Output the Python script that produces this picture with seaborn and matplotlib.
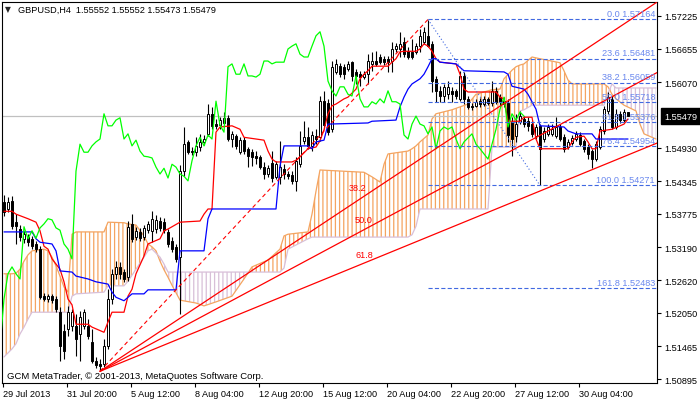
import numpy as np
import matplotlib
matplotlib.use("Agg")
import matplotlib.pyplot as plt
import matplotlib.transforms as mtrans
import seaborn as sns

# ---------------- data (GBPUSD H4) ----------------
opens = [1.5398, 1.5386, 1.5400, 1.5363, 1.5351, 1.5334, 1.5337, 1.5334, 1.5325, 1.5316,
         1.5234, 1.5229, 1.5234, 1.5229, 1.5206, 1.5173, 1.5177, 1.5182, 1.5182, 1.5168,
         1.5182, 1.5182, 1.5154, 1.5121, 1.5116, 1.5116, 1.5147, 1.5229, 1.5273, 1.5285,
         1.5276, 1.5267, 1.5360, 1.5337, 1.5346, 1.5337, 1.5349, 1.5348, 1.5351, 1.5365,
         1.5363, 1.5346, 1.5330, 1.5320, 1.5302, 1.5452, 1.5503, 1.5487, 1.5485, 1.5494,
         1.5503, 1.5517, 1.5552, 1.5534, 1.5532, 1.5536, 1.5545, 1.5508, 1.5513, 1.5485,
         1.5506, 1.5491, 1.5485, 1.5478, 1.5477, 1.5459, 1.5447, 1.5466, 1.5442, 1.5442,
         1.5456, 1.5447, 1.5445, 1.5435, 1.5464, 1.5505, 1.5511, 1.5496, 1.5513, 1.5511,
         1.5574, 1.5571, 1.5525, 1.5625, 1.5635, 1.5634, 1.5630, 1.5642, 1.5625, 1.5621,
         1.5616, 1.5621, 1.5639, 1.5644, 1.5651, 1.5648, 1.5648, 1.5644, 1.5665, 1.5665,
         1.5677, 1.5661, 1.5660, 1.5660, 1.5670, 1.5677, 1.5688, 1.5674, 1.5613, 1.5592,
         1.5583, 1.5586, 1.5592, 1.5592, 1.5578, 1.5618, 1.5578, 1.5566, 1.5566, 1.5574,
         1.5569, 1.5578, 1.5571, 1.5592, 1.5581, 1.5574, 1.5571, 1.5538, 1.5513, 1.5538,
         1.5543, 1.5539, 1.5534, 1.5513, 1.5531, 1.5508, 1.5517, 1.5517, 1.5513, 1.5529,
         1.5511, 1.5494, 1.5501, 1.5508, 1.5515, 1.5505, 1.5494, 1.5487, 1.5473, 1.5494,
         1.5522, 1.5557, 1.5578, 1.5529, 1.5552, 1.5541, 1.55552]
highs = [1.5410, 1.5407, 1.5409, 1.5377, 1.5358, 1.5348, 1.5342, 1.5339, 1.5330, 1.5321,
         1.5239, 1.5238, 1.5238, 1.5234, 1.5215, 1.5185, 1.5217, 1.5212, 1.5203, 1.5208,
         1.5212, 1.5194, 1.5177, 1.5128, 1.5124, 1.5159, 1.5246, 1.5281, 1.5295, 1.5294,
         1.5281, 1.5365, 1.5377, 1.5355, 1.5353, 1.5358, 1.5365, 1.5382, 1.5376, 1.5372,
         1.5370, 1.5351, 1.5337, 1.5325, 1.5463, 1.5529, 1.5506, 1.5494, 1.5511, 1.5517,
         1.5515, 1.5569, 1.5564, 1.5543, 1.5546, 1.5555, 1.5550, 1.5522, 1.5517, 1.5511,
         1.5511, 1.5494, 1.5491, 1.5487, 1.5480, 1.5468, 1.5463, 1.5487, 1.5470, 1.5505,
         1.5464, 1.5452, 1.5452, 1.5477, 1.5522, 1.5539, 1.5529, 1.5522, 1.5525, 1.5583,
         1.5592, 1.5578, 1.5644, 1.5648, 1.5641, 1.5639, 1.5644, 1.5644, 1.5630, 1.5627,
         1.5627, 1.5656, 1.5660, 1.5661, 1.5656, 1.5653, 1.5653, 1.5677, 1.5675, 1.5695,
         1.5686, 1.5668, 1.5682, 1.5675, 1.5700, 1.5703, 1.5716, 1.5679, 1.5618, 1.5600,
         1.5604, 1.5609, 1.5599, 1.5595, 1.5627, 1.5625, 1.5583, 1.5571, 1.5578, 1.5580,
         1.5583, 1.5581, 1.5609, 1.5599, 1.5586, 1.5581, 1.5578, 1.5546, 1.5552, 1.5557,
         1.5548, 1.5546, 1.5539, 1.5534, 1.5534, 1.5529, 1.5534, 1.5534, 1.5546, 1.5534,
         1.5517, 1.5508, 1.5515, 1.5522, 1.5520, 1.5508, 1.5499, 1.5491, 1.5505, 1.5531,
         1.5566, 1.5590, 1.5583, 1.5560, 1.5557, 1.5560, 1.55552]
lows = [1.5374, 1.5381, 1.5351, 1.5325, 1.5330, 1.5327, 1.5321, 1.5316, 1.5311, 1.5229,
        1.5226, 1.5224, 1.5222, 1.5206, 1.5121, 1.5124, 1.5164, 1.5173, 1.5130, 1.5121,
        1.5177, 1.5159, 1.5117, 1.5109, 1.5103, 1.5110, 1.5142, 1.5220, 1.5264, 1.5264,
        1.5259, 1.5260, 1.5328, 1.5332, 1.5330, 1.5332, 1.5344, 1.5328, 1.5344, 1.5348,
        1.5344, 1.5320, 1.5311, 1.5294, 1.5203, 1.5443, 1.5482, 1.5480, 1.5478, 1.5487,
        1.5498, 1.5513, 1.5525, 1.5525, 1.5525, 1.5531, 1.5505, 1.5494, 1.5491, 1.5482,
        1.5482, 1.5459, 1.5461, 1.5464, 1.5456, 1.5438, 1.5442, 1.5433, 1.5438, 1.5430,
        1.5438, 1.5438, 1.5430, 1.5417, 1.5459, 1.5499, 1.5491, 1.5487, 1.5499, 1.5505,
        1.5525, 1.5515, 1.5520, 1.5621, 1.5616, 1.5613, 1.5627, 1.5609, 1.5604, 1.5600,
        1.5613, 1.5604, 1.5627, 1.5635, 1.5639, 1.5637, 1.5625, 1.5625, 1.5660, 1.5651,
        1.5651, 1.5648, 1.5648, 1.5656, 1.5660, 1.5674, 1.5668, 1.5590, 1.5573, 1.5573,
        1.5573, 1.5578, 1.5573, 1.5578, 1.5574, 1.5569, 1.5560, 1.5559, 1.5564, 1.5564,
        1.5566, 1.5567, 1.5566, 1.5569, 1.5566, 1.5564, 1.5503, 1.5478, 1.5503, 1.5534,
        1.5529, 1.5522, 1.5511, 1.5508, 1.5428, 1.5503, 1.5513, 1.5513, 1.5510, 1.5505,
        1.5485, 1.5491, 1.5498, 1.5505, 1.5496, 1.5485, 1.5473, 1.5457, 1.5470, 1.5491,
        1.5517, 1.5552, 1.5525, 1.5525, 1.5536, 1.5538, 1.55473]
closes = [1.5381, 1.5398, 1.5356, 1.5356, 1.5337, 1.5342, 1.5328, 1.5321, 1.5316, 1.5232,
          1.5229, 1.5234, 1.5227, 1.5212, 1.5147, 1.5138, 1.5206, 1.5206, 1.5159, 1.5198,
          1.5206, 1.5164, 1.5121, 1.5114, 1.5112, 1.5147, 1.5229, 1.5273, 1.5285, 1.5273,
          1.5264, 1.5355, 1.5334, 1.5348, 1.5335, 1.5353, 1.5360, 1.5369, 1.5367, 1.5353,
          1.5349, 1.5325, 1.5316, 1.5299, 1.5452, 1.5499, 1.5485, 1.5485, 1.5496, 1.5503,
          1.5508, 1.5552, 1.5531, 1.5531, 1.5541, 1.5545, 1.5508, 1.5517, 1.5496, 1.5506,
          1.5487, 1.5478, 1.5477, 1.5475, 1.5459, 1.5447, 1.5457, 1.5440, 1.5464, 1.5459,
          1.5447, 1.5443, 1.5435, 1.5470, 1.5496, 1.5511, 1.5496, 1.5515, 1.5508, 1.5574,
          1.5532, 1.5520, 1.5634, 1.5639, 1.5621, 1.5621, 1.5639, 1.5618, 1.5618, 1.5616,
          1.5621, 1.5644, 1.5644, 1.5639, 1.5642, 1.5642, 1.5642, 1.5665, 1.5670, 1.5674,
          1.5656, 1.5651, 1.5651, 1.5670, 1.5688, 1.5695, 1.5670, 1.5609, 1.5592, 1.5583,
          1.5599, 1.5599, 1.5586, 1.5583, 1.5618, 1.5578, 1.5564, 1.5564, 1.5573, 1.5569,
          1.5578, 1.5571, 1.5592, 1.5573, 1.5573, 1.5569, 1.5515, 1.5508, 1.5534, 1.5548,
          1.5534, 1.5531, 1.5517, 1.5529, 1.5491, 1.5522, 1.5529, 1.5525, 1.5529, 1.5508,
          1.5491, 1.5503, 1.5510, 1.5517, 1.5499, 1.5491, 1.5482, 1.5473, 1.5499, 1.5525,
          1.5560, 1.5581, 1.5529, 1.5552, 1.5541, 1.5555, 1.55479]

# Ichimoku lines (bar index, price)
tenkan_x = [0, 2, 3, 6, 8, 9, 10, 11, 12, 13, 14, 15, 16, 17, 18, 21, 22, 23, 25, 26,
            27, 30, 31, 32, 33, 35, 36, 37, 39, 40, 41, 44, 49, 50, 51, 52, 53, 54, 57, 59,
            60, 63, 65, 66, 67, 68, 72, 73, 74, 76, 78, 79, 80, 81, 82, 83, 85, 86, 88, 89,
            90, 91, 92, 96, 97, 98, 99, 100, 103, 104, 105, 106, 107, 108, 109, 113, 114, 115, 116, 123,
            124, 125, 126, 129, 130, 132, 133, 134, 141, 142, 143, 145, 146, 147, 148, 149, 152, 154, 155, 156]
tenkan = [1.5382, 1.5382, 1.5377, 1.5369, 1.5363, 1.5348, 1.5321, 1.5316, 1.5299, 1.5290,
          1.5281, 1.5259, 1.5229, 1.5219, 1.5185, 1.5185, 1.5180, 1.5177, 1.5171, 1.5189,
          1.5206, 1.5206, 1.5234, 1.5246, 1.5273, 1.5304, 1.5325, 1.5328, 1.5334, 1.5348,
          1.5351, 1.5363, 1.5365, 1.5377, 1.5386, 1.5386, 1.5520, 1.5529, 1.5531, 1.5525,
          1.5511, 1.5508, 1.5506, 1.5487, 1.5473, 1.5468, 1.5468, 1.5471, 1.5477, 1.5491,
          1.5494, 1.5505, 1.5524, 1.5552, 1.5566, 1.5569, 1.5578, 1.5581, 1.5595, 1.5613,
          1.5621, 1.5627, 1.5635, 1.5635, 1.5642, 1.5648, 1.5660, 1.5661, 1.5661, 1.5665,
          1.5674, 1.5670, 1.5661, 1.5648, 1.5642, 1.5639, 1.5621, 1.5595, 1.5590, 1.5590,
          1.5581, 1.5578, 1.5539, 1.5539, 1.5546, 1.5546, 1.5508, 1.5491, 1.5491, 1.5503,
          1.5511, 1.5513, 1.5503, 1.5491, 1.5491, 1.5522, 1.5525, 1.5531, 1.5534, 1.5543]
kijun_x = [0, 7, 8, 9, 12, 13, 14, 17, 18, 21, 23, 26, 27, 28, 30, 31, 32, 35, 36, 43,
           44, 50, 51, 52, 68, 69, 70, 76, 77, 78, 80, 81, 91, 92, 98, 99, 100, 101, 102, 104,
           105, 106, 107, 108, 109, 113, 115, 125, 126, 127, 130, 131, 132, 133, 134, 140, 141, 143, 147, 148,
           156]
kijun = [1.5346, 1.5346, 1.5334, 1.5328, 1.5325, 1.5313, 1.5278, 1.5276, 1.5269, 1.5264,
         1.5259, 1.5255, 1.5241, 1.5232, 1.5226, 1.5232, 1.5238, 1.5238, 1.5245, 1.5245,
         1.5313, 1.5313, 1.5369, 1.5386, 1.5386, 1.5461, 1.5496, 1.5496, 1.5491, 1.5503,
         1.5506, 1.5534, 1.5536, 1.5539, 1.5541, 1.5564, 1.5581, 1.5595, 1.5604, 1.5613,
         1.5621, 1.5634, 1.5648, 1.5648, 1.5642, 1.5639, 1.5627, 1.5625, 1.5621, 1.5600,
         1.5595, 1.5586, 1.5573, 1.5560, 1.5531, 1.5529, 1.5522, 1.5517, 1.5517, 1.5508,
         1.5508]
cloud_x = [0, 2, 3, 4, 5, 6, 7, 10, 11, 12, 13, 14, 15, 16, 17, 18, 25, 26, 30, 31,
           33, 35, 36, 37, 38, 39, 40, 41, 42, 44, 48, 50, 53, 57, 60, 62, 66, 69, 70, 71,
           76, 77, 78, 79, 90, 92, 94, 95, 96, 101, 102, 103, 104, 106, 107, 108, 112, 116, 118, 121,
           122, 124, 125, 127, 128, 129, 130, 132, 134, 139, 140, 141, 142, 150, 151, 152, 153, 155, 158, 159,
           160, 163]
span_a = [1.5273, 1.5273, 1.5274, 1.5281, 1.5295, 1.5306, 1.5313, 1.5316, 1.5313, 1.5302,
          1.5287, 1.5269, 1.5250, 1.5241, 1.5342, 1.5346, 1.5346, 1.5363, 1.5362, 1.5360,
          1.5358, 1.5339, 1.5325, 1.5320, 1.5313, 1.5295, 1.5280, 1.5267, 1.5253, 1.5227,
          1.5222, 1.5217, 1.5224, 1.5234, 1.5264, 1.5285, 1.5297, 1.5316, 1.5339, 1.5342,
          1.5346, 1.5377, 1.5417, 1.5454, 1.5450, 1.5442, 1.5433, 1.5464, 1.5482, 1.5487,
          1.5491, 1.5496, 1.5503, 1.5515, 1.5543, 1.5552, 1.5559, 1.5569, 1.5586, 1.5592,
          1.5594, 1.5595, 1.5613, 1.5628, 1.5634, 1.5637, 1.5639, 1.5651, 1.5648, 1.5641,
          1.5627, 1.5611, 1.5604, 1.5604, 1.5599, 1.5586, 1.5578, 1.5567, 1.5557, 1.5534,
          1.5517, 1.5508]
span_b = [1.5128, 1.5142, 1.5151, 1.5168, 1.5180, 1.5194, 1.5206, 1.5206, 1.5206, 1.5206,
          1.5206, 1.5206, 1.5206, 1.5206, 1.5234, 1.5238, 1.5241, 1.5252, 1.5252, 1.5260,
          1.5281, 1.5302, 1.5313, 1.5316, 1.5309, 1.5302, 1.5290, 1.5276, 1.5276, 1.5276,
          1.5276, 1.5276, 1.5276, 1.5276, 1.5276, 1.5276, 1.5276, 1.5276, 1.5283, 1.5316,
          1.5334, 1.5337, 1.5337, 1.5337, 1.5337, 1.5337, 1.5337, 1.5337, 1.5337, 1.5337,
          1.5341, 1.5356, 1.5386, 1.5386, 1.5386, 1.5386, 1.5386, 1.5386, 1.5386, 1.5386,
          1.5494, 1.5494, 1.5494, 1.5494, 1.5494, 1.5557, 1.5559, 1.5567, 1.5567, 1.5567,
          1.5567, 1.5567, 1.5567, 1.5567, 1.5588, 1.5604, 1.5597, 1.5597, 1.5597, 1.5597,
          1.5597, 1.5597]
chikou_shift = 26

# Fibonacci objects
fib_levels = [0.0, 23.6, 38.2, 50.0, 61.8, 76.4, 100.0, 161.8]
fib_prices = [1.57164, 1.56481, 1.56059, 1.55718, 1.55376, 1.54954, 1.54271, 1.52483]
fib_high_bar, fib_low_bar = 106, 134
fan_levels = [38.2, 50.0, 61.8]
fan_low_bar, fan_low_price = 24, 1.5103
fan_label_pos = [(88.5, 1.5423), (90.0, 1.5367), (90.0, 1.5307)]

last_price = 1.55479
yticks = [1.57225, 1.56655, 1.56070, 1.54930, 1.54345, 1.53775, 1.53190,
          1.52620, 1.52050, 1.51465, 1.50895]
xtick_bars = [0, 16, 32, 48, 64, 80, 96, 112, 128, 144]
xtick_labels = ["29 Jul 2013", "31 Jul 20:00", "5 Aug 12:00", "8 Aug 04:00", "12 Aug 20:00",
                "15 Aug 12:00", "20 Aug 04:00", "22 Aug 20:00", "27 Aug 12:00", "30 Aug 04:00"]

# ---------------- style ----------------
sns.set_style("white")
plt.rcParams['font.family'] = ['Liberation Sans', 'DejaVu Sans']
plt.rcParams['hatch.linewidth'] = 0.9
plt.rcParams['lines.scale_dashes'] = False
FS = 6.6

fig = plt.figure(figsize=(7.0, 4.02), dpi=100)
ax = fig.add_axes([2 / 700, 18 / 402, 655 / 700, 381 / 402])
XMIN, XMAX = -0.5, 163.25
YMIN, YMAX = 1.508256, 1.574691

o = np.array(opens); h = np.array(highs); l = np.array(lows); c = np.array(closes)
bars = np.arange(len(c))
A = np.array(span_a); B = np.array(span_b); cx = np.array(cloud_x)

SANDY = '#F4A460'
THISTLE = '#D8BFD8'

# cloud hatch
ax.fill_between(cx, A, B, where=A >= B, interpolate=True, facecolor='none',
                edgecolor=SANDY, hatch='||||', linewidth=0, zorder=1)
ax.fill_between(cx, A, B, where=A < B, interpolate=True, facecolor='none',
                edgecolor=THISTLE, hatch='||||', linewidth=0, zorder=1)
sns.lineplot(x=cx, y=A, color=SANDY, linewidth=0.9, ax=ax, zorder=2)
sns.lineplot(x=cx, y=B, color=THISTLE, linewidth=0.9, ax=ax, zorder=2)

# bid line
ax.axhline(last_price, color='#C0C0C0', linewidth=0.9, zorder=2)

# candles
ax.vlines(bars, l, h, color='black', linewidth=0.8, zorder=3)
up = c >= o
body_h = np.maximum(np.abs(c - o), 0.00002)
ax.bar(bars, body_h, bottom=np.minimum(o, c), width=0.5,
       color=np.where(up, 'white', 'black'), edgecolor='black', linewidth=0.7, zorder=4)

# ichimoku lines
sns.lineplot(x=np.array(tenkan_x), y=np.array(tenkan), color='#FF0000', linewidth=0.9, ax=ax, zorder=5)
sns.lineplot(x=np.array(kijun_x), y=np.array(kijun), color='#0000FF', linewidth=0.9, ax=ax, zorder=5)
sns.lineplot(x=bars - chikou_shift, y=c, color='#00FF00', linewidth=0.9, ax=ax, zorder=5)

# Fibonacci retracement
FIB_LINE = '#4169E1'
FIB_TEXT = '#6A88EE'
for lvl, p in zip(fib_levels, fib_prices):
    ax.hlines(p, fib_high_bar, XMAX, colors=FIB_LINE, linestyles=(0, (3.0, 1.6)),
              linewidth=0.8, zorder=6)
    ax.annotate(f"{lvl:.1f} {p:.5f}", (162.75, p), xytext=(0, 1.0), textcoords='offset points',
                ha='right', va='bottom', color=FIB_TEXT, fontsize=FS, zorder=7)
ax.plot([fib_high_bar, fib_low_bar], [fib_prices[0], fib_prices[6]], color=FIB_LINE,
        linestyle=(0, (0.8, 1.6)), linewidth=0.8, zorder=6)

# Fibonacci fan
p1, p2 = fan_low_price, fib_prices[0]
ax.plot([fan_low_bar, fib_high_bar], [p1, p2], color='red', linestyle=(0, (3.0, 2.2)),
        linewidth=0.8, zorder=6)
for lvl, (lx, ly) in zip(fan_levels, fan_label_pos):
    target = p2 - lvl / 100.0 * (p2 - p1)
    slope = (target - p1) / (fib_high_bar - fan_low_bar)
    ax.plot([fan_low_bar, XMAX], [p1, p1 + slope * (XMAX - fan_low_bar)], color='red',
            linewidth=0.9, zorder=6)
    ax.text(lx, ly, f"{lvl:.1f}", color='red', fontsize=FS, ha='center', va='center', zorder=7)

# axes
ax.set_xlim(XMIN, XMAX)
ax.set_ylim(YMIN, YMAX)
ax.set_xlabel(''); ax.set_ylabel('')
ax.yaxis.tick_right()
ax.set_yticks(yticks)
ax.set_yticklabels([f"{v:.5f}" for v in yticks])
ax.tick_params(axis='y', direction='out', length=3, width=0.8, pad=2.5, labelsize=FS,
               colors='black', right=True, left=False)
ax.set_xticks([b - 0.25 for b in xtick_bars])
ax.set_xticklabels(xtick_labels, ha='left')
ax.tick_params(axis='x', direction='out', length=3, width=0.8, pad=1.5, labelsize=FS,
               colors='black', bottom=True)
for s in ax.spines.values():
    s.set_color('black')
    s.set_linewidth(0.8)
ax.grid(False)

# current price box
trans = mtrans.blended_transform_factory(ax.transAxes, ax.transData)
ax.text(1 + 7 / 655, last_price, f"{last_price:.5f}", transform=trans, ha='left', va='center',
        color='white', fontsize=FS, clip_on=False, zorder=10,
        bbox=dict(boxstyle='square,pad=0.35', fc='black', ec='black'))

# header and copyright
fig.text(5 / 700, 1 - 10 / 402, "\u25BC", fontsize=5.5, va='center', ha='left',
         family=['DejaVu Sans'])
fig.text(18 / 700, 1 - 10 / 402, "GBPUSD,H4  1.55552 1.55552 1.55473 1.55479",
         fontsize=FS, va='center', ha='left', color='black')
fig.text(7 / 700, 1 - 377 / 402, "GCM MetaTrader, \u00A9 2001-2013, MetaQuotes Software Corp.",
         fontsize=6.8, va='center', ha='left', color='black')

fig.savefig('out.png', dpi=100)
